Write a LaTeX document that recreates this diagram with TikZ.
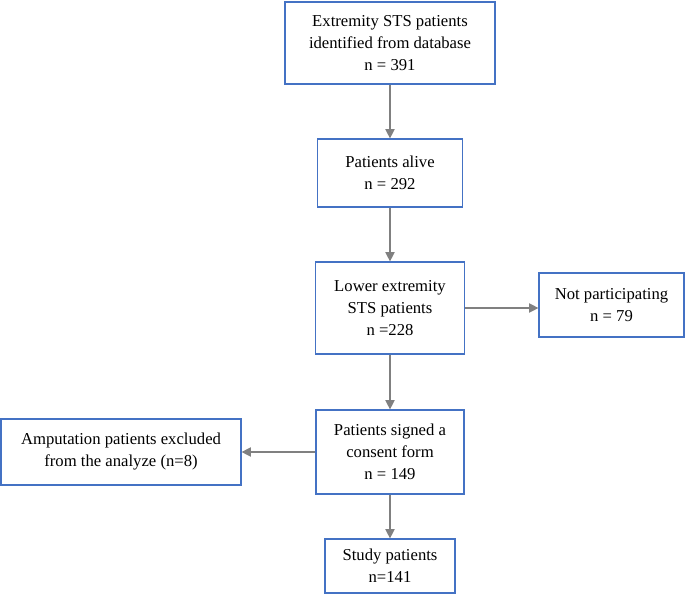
\documentclass[tikz,border=0pt]{standalone}
\usepackage{fontspec}
\setmainfont{Liberation Serif}
\usetikzlibrary{arrows.meta}

\definecolor{boxblue}{RGB}{68,114,196}
\definecolor{arrowgray}{RGB}{128,128,128}

\tikzset{
	stepbox/.style={draw=boxblue,line width=0.9pt,rectangle,inner sep=0pt,align=center,
		font=\fontsize{12.5}{16.5}\selectfont},
	flow/.style={draw=arrowgray,line width=0.9pt,-{Triangle[length=7pt,width=7pt]}}
}

\begin{document}
\begin{tikzpicture}[x=0.75pt,y=-0.75pt]
		\useasboundingbox (0,0) rectangle (685,604);
		\node[stepbox,minimum width=210*0.75pt,minimum height=82*0.75pt] (Ident) at (390,43) {Extremity STS patients\\identified from database\\n = 391};
		\node[stepbox,minimum width=145*0.75pt,minimum height=68*0.75pt] (Alive) at (390,173) {Patients alive\\n = 292};
		\node[stepbox,minimum width=149*0.75pt,minimum height=92*0.75pt] (Lower) at (390,308) {Lower extremity\\STS patients\\n =228};
		\node[stepbox,minimum width=145*0.75pt,minimum height=64*0.75pt] (NotPart) at (611.5,305) {Not participating\\n = 79};
		\node[stepbox,minimum width=148*0.75pt,minimum height=84*0.75pt] (Consent) at (390,452) {Patients signed a\\consent form\\n = 149};
		\node[stepbox,minimum width=240*0.75pt,minimum height=66*0.75pt] (Amput) at (121,452) {Amputation patients excluded\\from the analyze (n=8)};
		\node[stepbox,minimum width=130*0.75pt,minimum height=54*0.75pt] (Study) at (390,566) {Study patients\\n=141};
		\draw[flow] (Ident) -- (Alive);
		\draw[flow] (Alive) -- (Lower);
		\draw[flow] (Lower.east) -- (Lower.east -| NotPart.west);
		\draw[flow] (Lower) -- (Consent);
		\draw[flow] (Consent.west) -- (Consent.west -| Amput.east);
		\draw[flow] (Consent) -- (Study);
	\end{tikzpicture}
\end{document}
